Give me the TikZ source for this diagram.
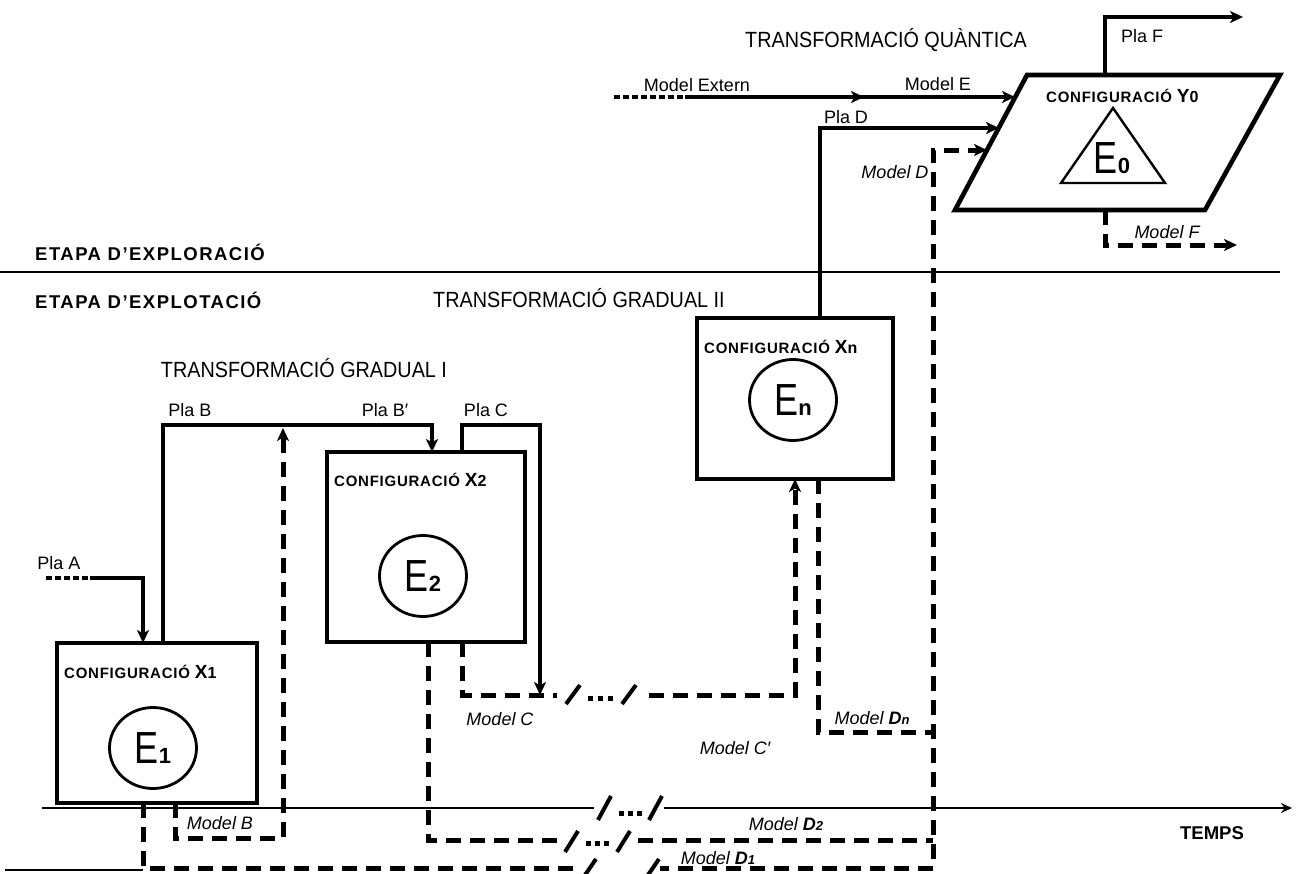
\documentclass[tikz,border=0pt]{standalone}
\usepackage{fontspec}
\setmainfont{Liberation Sans}
\newfontfamily\efont[FakeStretch=0.8]{Liberation Sans}
\newfontfamily\nfont[FakeStretch=0.9]{Liberation Sans}
\newfontfamily\cfgfont[LetterSpace=5]{Liberation Sans}
\newfontfamily\stfont[LetterSpace=8]{Liberation Sans}
\usetikzlibrary{arrows.meta,shapes.geometric}
\tikzset{
  tip/.tip={Stealth[length=13pt,width=12pt,inset=3.5pt]},
  cbox/.style={draw, line width=4.6pt, inner sep=0pt, outer sep=0pt},
  conn/.style={line width=4.2pt, line join=miter},
  dconn/.style={line width=5pt, dash pattern=on 15pt off 9pt},
  dotln/.style={line width=4.2pt, dash pattern=on 6pt off 3pt},
  thinln/.style={line width=2pt},
  ecirc/.style={draw, ellipse, line width=2.8pt, minimum width=87pt, minimum height=81pt, inner sep=0pt},
  lbl/.style={font=\fontsize{18}{20}\selectfont, inner sep=1pt},
  ilbl/.style={font=\fontsize{18}{20}\selectfont\itshape, inner sep=1pt},
  stage/.style={font=\stfont\fontsize{18.5}{20}\selectfont\bfseries, inner sep=1pt},
  tlbl/.style={font=\nfont\fontsize{22}{24}\selectfont, inner sep=1pt},
  cfg/.style={font=\cfgfont\fontsize{15}{17}\selectfont\bfseries, inner sep=1pt, anchor=base west},
  slash/.style={line width=4pt},
}
\newcommand{\bigE}[1]{{\efont\fontsize{45}{45}\selectfont E}{\bfseries\fontsize{22}{22}\selectfont #1}}
\newcommand{\cfgX}[2]{CONFIGURACIÓ {\fontsize{19}{19}\selectfont #1}{\fontsize{16}{16}\selectfont #2}}
\begin{document}
\begin{tikzpicture}[x=1pt,y=-1pt]
\useasboundingbox (0,0) rectangle (1298,873);

% stage separator and time axis
\draw[thinln] (0,272) -- (1280,272);
\coordinate (ax0) at (42,808);
\coordinate (ax1) at (1292,808);
\draw[thinln,-{Stealth[length=11pt,width=10pt]}] (ax0) -- (ax1);
\coordinate (bl0) at (5,870);
\coordinate (bl1) at (143,870);
\draw[line width=1.8pt] (bl0) -- (bl1);

% boxes
\node[cbox, minimum width=200pt, minimum height=160pt] (X1) at (157,723) {};
\node[cbox, minimum width=198pt, minimum height=190pt] (X2) at (426,547) {};
\node[cbox, minimum width=196pt, minimum height=161pt] (Xn) at (795,398.5) {};

\node[cfg] (cfg1) at (63,678) {\cfgX{X}{1}};
\node[cfg] (cfg2) at (333,486) {\cfgX{X}{2}};
\node[cfg] (cfgn) at (703,353) {\cfgX{X}{n}};
\node[ecirc] (E1) at (153,748) {\bigE{1}};
\node[ecirc] (E2) at (423,576) {\bigE{2}};
\node[ecirc] (En) at (793,400) {\bigE{n}};

% Y0 parallelogram
\coordinate (pTL) at (1027,75);
\coordinate (pTR) at (1280,75);
\coordinate (pBR) at (1205,210);
\coordinate (pBL) at (955,210);
\draw[line width=4.6pt, line join=miter] (pTL) -- (pTR) -- (pBR) -- (pBL) -- cycle;
\coordinate (tA) at (1113,108);
\coordinate (tR) at (1165,183);
\coordinate (tL) at (1061,183);
\draw[line width=2.4pt] (tA) -- (tR) -- (tL) -- cycle;
\node (E0) at (1112,158) {\bigE{0}};
\node[cfg] (cfgY) at (1045,102) {\cfgX{Y}{0}};

% edge points of the parallelogram
\coordinate (yE) at (1015,97);
\coordinate (yD) at (999,128);
\coordinate (yMD) at (987,150);
\coordinate (yTop) at (1105,75);
\coordinate (yBot) at (1105,210);

% Pla F
\coordinate (pf1) at (1105,17);
\coordinate (pf2) at (1243,17);
\draw[conn,-{tip}] (yTop) -- (pf1) -- (pf2);
% Model F
\coordinate (mf1) at (1105,245);
\coordinate (mf2) at (1237,245);
\draw[dconn,-{tip}] (yBot) -- (mf1) -- (mf2);

% Model Extern / Model E
\coordinate (me0) at (614,97);
\coordinate (me1) at (685,97);
\coordinate (me2) at (864,97);
\coordinate (me3) at (856,97);
\draw[dotln] (me0) -- (me1);
\draw[conn,-{tip}] (me1) -- (me2);
\draw[conn,-{tip}] (me3) -- (yE);

% Pla D
\coordinate (pd1) at (820,128);
\draw[conn,-{tip}] (pd1 |- Xn.north) -- (pd1) -- (yD);

% Pla A
\coordinate (pa0) at (46,578);
\coordinate (pa1) at (90,578);
\coordinate (pa2) at (143,578);
\draw[dotln] (pa0) -- (pa1);
\draw[conn,-{tip}] (pa1) -- (pa2) -- (pa2 |- X1.north);

% Pla B
\coordinate (pb1) at (163,425);
\coordinate (pb2) at (432,425);
\draw[conn,-{tip}] (pb1 |- X1.north) -- (pb1) -- (pb2) -- (pb2 |- X2.north);

% Pla C
\coordinate (pc1) at (462,425);
\coordinate (pc2) at (540,425);
\coordinate (pc3) at (540,695);
\draw[conn,-{tip}] (pc1 |- X2.north) -- (pc1) -- (pc2) -- (pc3);

% Model B
\coordinate (mb1) at (175,838);
\coordinate (mb2) at (283,838);
\coordinate (mb3) at (283,428);
\draw[dconn,-{tip}] (mb1 |- X1.south) -- (mb1) -- (mb2) -- (mb3);

% Model C / C'
\coordinate (mc1) at (462,695);
\coordinate (mc2) at (795,695);
\draw[dconn,-{tip}] (mc1 |- X2.south) -- (mc1) -- (mc2) -- (mc2 |- Xn.south);

% Model Dn
\coordinate (mdn1) at (818,732);
\coordinate (mdn2) at (933,732);
\draw[dconn] (mdn1 |- Xn.south) -- (mdn1) -- (mdn2);

% Model D2
\coordinate (md21) at (428,840);
\coordinate (md22) at (933,840);
\draw[dconn] (md21 |- X2.south) -- (md21) -- (md22);

% Model D1 -> Model D
\coordinate (md11) at (143,868);
\coordinate (md12) at (933,868);
\coordinate (md13) at (933,150);
\draw[dconn,-{tip}] (md11 |- X1.south) -- (md11) -- (md12) -- (md13) -- (yMD);

% breaks
\fill[white] (557,682) rectangle (643,708);
\draw[slash] (566,704) -- (580,685);
\draw[slash] (622,704) -- (636,685);
\fill (588,696) rectangle +(5,5);
\fill (598,696) rectangle +(5,5);
\fill (608,696) rectangle +(5,5);

\fill[white] (594,795) rectangle (664,821);
\draw[slash] (598,820) -- (611,796);
\draw[slash] (649,820) -- (662,796);
\fill (619,811) rectangle +(5,5);
\fill (628,811) rectangle +(5,5);
\fill (637,811) rectangle +(5,5);

\fill[white] (562,828) rectangle (632,853);
\draw[slash] (565,852) -- (578,831);
\draw[slash] (617,852) -- (630,831);
\fill (586,841) rectangle +(5,5);
\fill (595,841) rectangle +(5,5);
\fill (604,841) rectangle +(5,5);

\fill[white] (582,858) rectangle (660,873);
\draw[slash] (585,875) -- (596,859);
\draw[slash] (648,875) -- (659,859);

% labels
\node[tlbl] (tq) at (886,40) {TRANSFORMACIÓ QUÀNTICA};
\node[lbl] (lPF) at (1142,36) {Pla F};
\node[lbl] (lME) at (697,85) {Model Extern};
\node[lbl] (lE) at (938,84) {Model E};
\node[lbl] (lPD) at (846,117) {Pla D};
\node[ilbl] (lMD) at (895,172) {Model D};
\node[ilbl] (lMF) at (1167,232) {Model F};
\node[stage, anchor=west] (st1) at (34,252) {ETAPA D’EXPLORACIÓ};
\node[stage, anchor=west] (st2) at (34,300) {ETAPA D’EXPLOTACIÓ};
\node[tlbl] (tg2) at (579,298) {TRANSFORMACIÓ GRADUAL II};
\node[tlbl] (tg1) at (304,368) {TRANSFORMACIÓ GRADUAL I};
\node[lbl] (lPA) at (59,563) {Pla A};
\node[lbl] (lPB) at (190,410) {Pla B};
\node[lbl] (lPB2) at (385,410) {Pla B′};
\node[lbl] (lPC) at (486,410) {Pla C};
\node[ilbl] (lMB) at (220,823) {Model B};
\node[ilbl] (lMC) at (500,719) {Model C};
\node[ilbl] (lMC2) at (735,748) {Model C′};
\node[ilbl] (lMDn) at (872,718) {Model {\bfseries D{\fontsize{13}{13}\selectfont n}}};
\node[ilbl] (lMD2) at (786,824) {Model {\bfseries D{\fontsize{13}{13}\selectfont 2}}};
\node[ilbl] (lMD1) at (718,858) {Model {\bfseries D{\fontsize{13}{13}\selectfont 1}}};
\node[font=\fontsize{18.5}{20}\selectfont\bfseries, inner sep=1pt] (ltime) at (1212,833) {TEMPS};
\end{tikzpicture}
\end{document}
